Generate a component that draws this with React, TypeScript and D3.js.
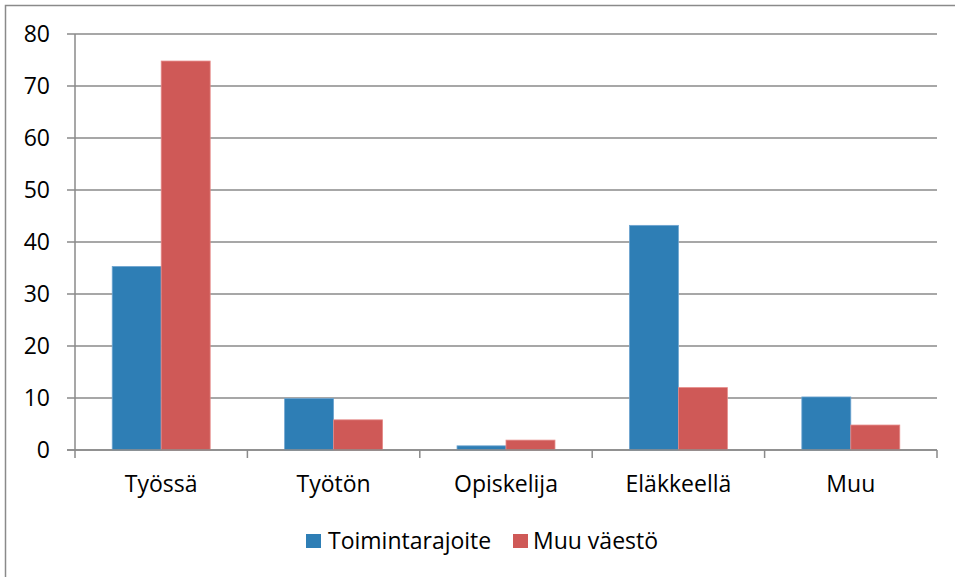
import React from "react";
import * as d3 from "d3";

const categories = ["Työssä", "Työtön", "Opiskelija", "Eläkkeellä", "Muu"];
const seriesNames = ["Toimintarajoite", "Muu väestö"];
const toimintarajoite = [35.3, 9.9, 0.8, 43.2, 10.2];
const muuVaesto = [74.8, 5.8, 1.9, 12.0, 4.8];
const yTicks = [0, 10, 20, 30, 40, 50, 60, 70, 80];
const colors = ["#2E7EB5", "#CF5957"];
const strokes = ["#6FA5D0", "#E58A88"];

export default function App() {
  const W = 955, H = 577;
  const left = 75, right = 937, top = 34, bottom = 450;
  const font = "'Open Sans', Lato, sans-serif";
  const fs = 23;
  const x = d3.scaleBand<string>().domain(categories).range([left, right]).paddingInner(0).paddingOuter(0);
  const xs = d3.scaleBand<string>().domain(seriesNames).range([0, x.bandwidth()]).paddingInner(0).paddingOuter(0.76);
  const y = d3.scaleLinear().domain([0, 80]).range([bottom, top]);
  const data = [toimintarajoite, muuVaesto];
  const boundaries = categories.map((c) => x(c)!).concat([right]);

  return (
    <svg width={W} height={H} style={{ position: "absolute", left: 0, top: 0, background: "#fff" }}>
      <rect x={0} y={0} width={W} height={H} fill="#fff" />
      <rect x={5.5} y={5.5} width={1200} height={1200} fill="none" stroke="#8a8a8a" strokeWidth={1.5} />
      {yTicks.map((t) => (
        <g key={t}>
          <line x1={67} x2={right} y1={y(t)} y2={y(t)} stroke="#8a8a8a" strokeWidth={1.5} />
          <text x={50} y={y(t)} dy="0.36em" textAnchor="end" fontFamily={font} fontSize={fs} fill="#000">
            {t}
          </text>
        </g>
      ))}
      <line x1={left} x2={left} y1={top} y2={bottom} stroke="#8a8a8a" strokeWidth={1.5} />
      {boundaries.map((b, i) => (
        <line key={i} x1={b} x2={b} y1={bottom} y2={bottom + 8} stroke="#8a8a8a" strokeWidth={1.5} />
      ))}
      {categories.map((c, ci) =>
        seriesNames.map((s, si) => {
          const v = data[si][ci];
          const bx = x(c)! + xs(s)!;
          return (
            <rect
              key={c + s}
              x={bx}
              y={y(v)}
              width={xs.bandwidth()}
              height={bottom - y(v)}
              fill={colors[si]}
              stroke={strokes[si]}
              strokeWidth={0.8}
            />
          );
        })
      )}
      <line x1={67} x2={right} y1={bottom} y2={bottom} stroke="#8a8a8a" strokeWidth={1.5} />
      {categories.map((c) => (
        <text key={c} x={x(c)! + x.bandwidth() / 2} y={492} textAnchor="middle" fontFamily={font} fontSize={fs} fill="#000">
          {c}
        </text>
      ))}
      <g>
        <rect x={306} y={534} width={15} height={14} fill={colors[0]} />
        <text x={328} y={549} fontFamily={font} fontSize={fs} fill="#000">{seriesNames[0]}</text>
        <rect x={513} y={534} width={15} height={14} fill={colors[1]} />
        <text x={533} y={549} fontFamily={font} fontSize={fs} fill="#000">{seriesNames[1]}</text>
      </g>
    </svg>
  );
}
